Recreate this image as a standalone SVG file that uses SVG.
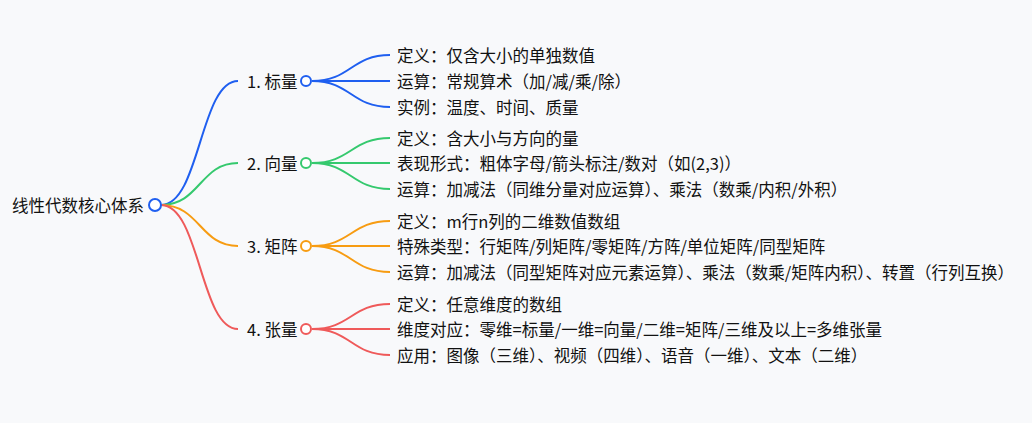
<svg xmlns="http://www.w3.org/2000/svg" width="1032" height="423" viewBox="0 0 1032 423">
<style>
text{font-family:"Noto Sans CJK SC","Noto Sans",sans-serif;font-size:16.5px;fill:#111;dominant-baseline:central}
path{fill:none;stroke-width:2}
circle{fill:#fff;stroke-width:2}
.b{stroke:#1f5ff0}.g{stroke:#35c96e}.o{stroke:#f79c12}.r{stroke:#ef5a5a}
</style>
<rect width="1032" height="423" fill="#f8f9fb"/>
<g id="connectors">
<path class="b" d="M161,205 C200,205 200,81 238,81"/>
<path class="g" d="M161,205 C200,205 200,163 238,163"/>
<path class="o" d="M161,205 C200,205 200,246 238,246"/>
<path class="r" d="M161,205 C200,205 200,329 238,329"/>
<path class="b" d="M312,81 C351,81 351,55 390,55"/><path class="b" d="M312,81 H390"/><path class="b" d="M312,81 C351,81 351,107 390,107"/>
<path class="g" d="M312,163 C351,163 351,138 390,138"/><path class="g" d="M312,163 H390"/><path class="g" d="M312,163 C351,163 351,189 390,189"/>
<path class="o" d="M312,246 C351,246 351,221 390,221"/><path class="o" d="M312,246 H390"/><path class="o" d="M312,246 C351,246 351,272 390,272"/>
<path class="r" d="M312,329 C351,329 351,304 390,304"/><path class="r" d="M312,329 H390"/><path class="r" d="M312,329 C351,329 351,355 390,355"/>
</g>
<g id="root"><text x="12" y="205">线性代数核心体系</text><circle class="b" cx="155" cy="205" r="6"/></g>
<g id="n1"><text x="247" y="81">1. 标量</text><circle class="b" cx="306" cy="81" r="5"/></g>
<g id="n2"><text x="247" y="163">2. 向量</text><circle class="g" cx="306" cy="163" r="5"/></g>
<g id="n3"><text x="247" y="246">3. 矩阵</text><circle class="o" cx="306" cy="246" r="5"/></g>
<g id="n4"><text x="247" y="329">4. 张量</text><circle class="r" cx="306" cy="329" r="5"/></g>
<g id="n1a"><text x="397" y="55">定义：仅含大小的单独数值</text></g>
<g id="n1b"><text x="397" y="81">运算：常规算术（加/减/乘/除）</text></g>
<g id="n1c"><text x="397" y="107">实例：温度、时间、质量</text></g>
<g id="n2a"><text x="397" y="138">定义：含大小与方向的量</text></g>
<g id="n2b"><text x="397" y="163">表现形式：粗体字母/箭头标注/数对（如(2,3)）</text></g>
<g id="n2c"><text x="397" y="189">运算：加减法（同维分量对应运算）、乘法（数乘/内积/外积）</text></g>
<g id="n3a"><text x="397" y="221">定义：m行n列的二维数值数组</text></g>
<g id="n3b"><text x="397" y="246">特殊类型：行矩阵/列矩阵/零矩阵/方阵/单位矩阵/同型矩阵</text></g>
<g id="n3c"><text x="397" y="272">运算：加减法（同型矩阵对应元素运算）、乘法（数乘/矩阵内积）、转置（行列互换）</text></g>
<g id="n4a"><text x="397" y="304">定义：任意维度的数组</text></g>
<g id="n4b"><text x="397" y="329">维度对应：零维=标量/一维=向量/二维=矩阵/三维及以上=多维张量</text></g>
<g id="n4c"><text x="397" y="355">应用：图像（三维）、视频（四维）、语音（一维）、文本（二维）</text></g>
</svg>
